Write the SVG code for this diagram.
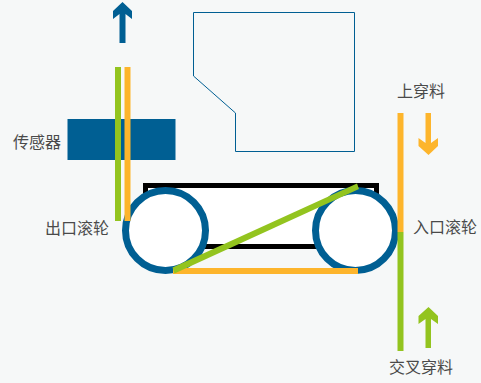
<svg xmlns="http://www.w3.org/2000/svg" width="481" height="383" viewBox="0 0 481 383">
<style>
text{font-family:"Liberation Sans","Noto Sans CJK SC",sans-serif;font-size:16px;fill:#4a4a4a}
.roller{fill:#fff;stroke:#005f93;stroke-width:7}
.g{fill:#93c41f}.o{fill:#fdb52c}.b{fill:#005f93}
</style>
<rect width="481" height="383" fill="#f6f8f8"/>
<g id="frame"><polygon points="193.500,12.500 354.500,12.500 354.500,151.500 235.500,151.500 235.500,113 193.500,76" fill="none" stroke="#005f93" stroke-width="1"/></g>
<g id="sensor"><rect class="b" x="67.500" y="119" width="108" height="41"/><text x="13" y="148">传感器</text></g>
<g id="belt"><rect x="145.500" y="185.500" width="231" height="61" fill="#fff" stroke="#000" stroke-width="5"/></g>
<g id="exit-roller"><circle class="roller" cx="165.500" cy="230.500" r="40"/><text x="45" y="234">出口滚轮</text></g>
<g id="entry-roller"><circle class="roller" cx="355.500" cy="230.500" r="40"/><text x="413" y="233">入口滚轮</text></g>
<g id="connectors">
<rect class="g" x="115" y="67" width="6" height="154"/>
<rect class="o" x="124.500" y="67" width="6" height="154"/>
<rect class="o" x="173" y="268" width="185" height="6"/>
<polygon class="g" points="172.500,267.500 357,183.500 359,189 174.500,273.500"/>
<rect class="o" x="397.500" y="113" width="6" height="119"/>
<rect class="g" x="397.500" y="232" width="6" height="119"/>
<polygon class="b" points="122.500,2 132,11 132,19 125.500,14 125.500,43 119.500,43 119.500,14 113,19 113,11"/>
<polygon class="o" points="425.500,113 431,113 431,143 438,138 438,146 428.500,155 418.500,146 418.500,138 425.500,143"/>
<polygon class="g" points="428.500,307 438,316 438,324 431,319 431,348 425.500,348 425.500,319 418.500,324 418.500,316"/>
</g>
<g id="labels"><text x="397" y="97">上穿料</text><text x="389" y="373">交叉穿料</text></g>
</svg>
